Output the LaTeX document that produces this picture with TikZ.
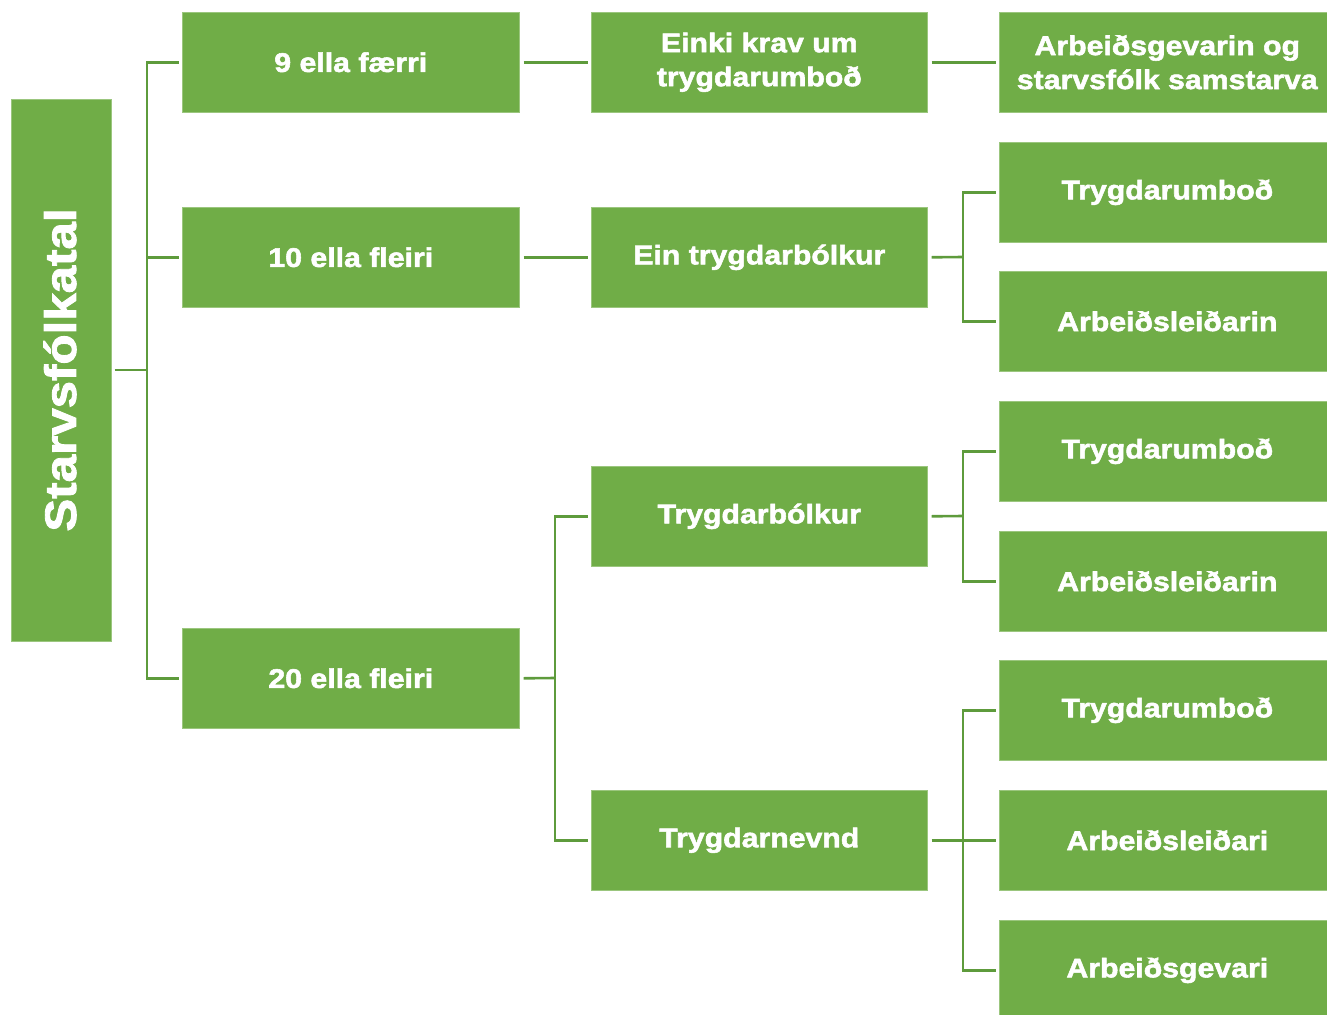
\documentclass[tikz,border=0pt]{standalone}
\usepackage{fontspec}
\setmainfont{Liberation Sans}[BoldFeatures={FakeStretch=1.12,FakeBold=2}]
\definecolor{boxgreen}{HTML}{70AD47}
\definecolor{linegreen}{HTML}{5E9B3C}
\tikzset{
  box/.style={fill=boxgreen, draw=boxgreen!70!white, line width=0.6pt, text=white,
    font=\fontsize{27}{34}\selectfont\bfseries, align=center, inner sep=0pt},
  conn/.style={draw=linegreen, line width=2.6pt},
}
\begin{document}
\begin{tikzpicture}[x=1pt,y=-1pt]
\useasboundingbox (0,0) rectangle (1327,1014);
% root
\node[box, minimum width=100pt, minimum height=542pt, anchor=north west] (root) at (11,99) {};
\node[text=white, font=\fontsize{44}{50}\selectfont\bfseries, rotate=90] (roottext) at (60,370) {Starvsfólkatal};
% level 1
\node[box, minimum width=337pt, minimum height=100pt, anchor=north west] (a1) at (182,12) {9 ella færri};
\node[box, minimum width=337pt, minimum height=100pt, anchor=north west] (a2) at (182,207) {10 ella fleiri};
\node[box, minimum width=337pt, minimum height=100pt, anchor=north west] (a3) at (182,628) {20 ella fleiri};
% level 2
\node[box, minimum width=336pt, minimum height=100pt, anchor=north west] (b1) at (591,12) {Einki krav um\\trygdarumboð};
\node[box, minimum width=336pt, minimum height=100pt, anchor=north west] (b2) at (591,207) {Ein trygdarbólkur};
\node[box, minimum width=336pt, minimum height=100pt, anchor=north west] (b3) at (591,466) {Trygdarbólkur};
\node[box, minimum width=336pt, minimum height=100pt, anchor=north west] (b4) at (591,790) {Trygdarnevnd};
% level 3
\node[box, minimum width=336pt, minimum height=100pt, anchor=north west] (c1) at (999,12) {Arbeiðsgevarin og\\starvsfólk samstarva};
\node[box, minimum width=336pt, minimum height=100pt, anchor=north west] (c2) at (999,142) {Trygdarumboð};
\node[box, minimum width=336pt, minimum height=100pt, anchor=north west] (c3) at (999,271) {Arbeiðsleiðarin};
\node[box, minimum width=336pt, minimum height=100pt, anchor=north west] (c4) at (999,401) {Trygdarumboð};
\node[box, minimum width=336pt, minimum height=100pt, anchor=north west] (c5) at (999,531) {Arbeiðsleiðarin};
\node[box, minimum width=336pt, minimum height=100pt, anchor=north west] (c6) at (999,660) {Trygdarumboð};
\node[box, minimum width=336pt, minimum height=100pt, anchor=north west] (c7) at (999,790) {Arbeiðsleiðari};
\node[box, minimum width=336pt, minimum height=100pt, anchor=north west] (c8) at (999,920) {Arbeiðsgevari};
% connectors
\coordinate (r0) at (147,370);
\draw[conn] ([xshift=3pt]root.east |- r0) -- (r0);
\draw[conn] (r0) |- ([xshift=-3pt]a1.west);
\draw[conn] (r0) |- ([xshift=-3pt]a2.west);
\draw[conn] (r0) |- ([xshift=-3pt]a3.west);
\draw[conn] ([xshift=4pt]a1.east) -- ([xshift=-3pt]b1.west);
\draw[conn] ([xshift=4pt]a2.east) -- ([xshift=-3pt]b2.west);
\coordinate (k3) at (555,678);
\draw[conn] ([xshift=4pt]a3.east) -- (k3);
\draw[conn] (k3) |- ([xshift=-3pt]b3.west);
\draw[conn] (k3) |- ([xshift=-3pt]b4.west);
\draw[conn] ([xshift=4pt]b1.east) -- ([xshift=-3pt]c1.west);
\coordinate (m2) at (963,257);
\draw[conn] ([xshift=4pt]b2.east) -- (m2);
\draw[conn] (m2) |- ([xshift=-3pt]c2.west);
\draw[conn] (m2) |- ([xshift=-3pt]c3.west);
\coordinate (m3) at (963,516);
\draw[conn] ([xshift=4pt]b3.east) -- (m3);
\draw[conn] (m3) |- ([xshift=-3pt]c4.west);
\draw[conn] (m3) |- ([xshift=-3pt]c5.west);
\coordinate (m4) at (963,840);
\draw[conn] ([xshift=4pt]b4.east) -- ([xshift=-3pt]c7.west);
\draw[conn] (m4) |- ([xshift=-3pt]c6.west);
\draw[conn] (m4) |- ([xshift=-3pt]c8.west);
\end{tikzpicture}
\end{document}
